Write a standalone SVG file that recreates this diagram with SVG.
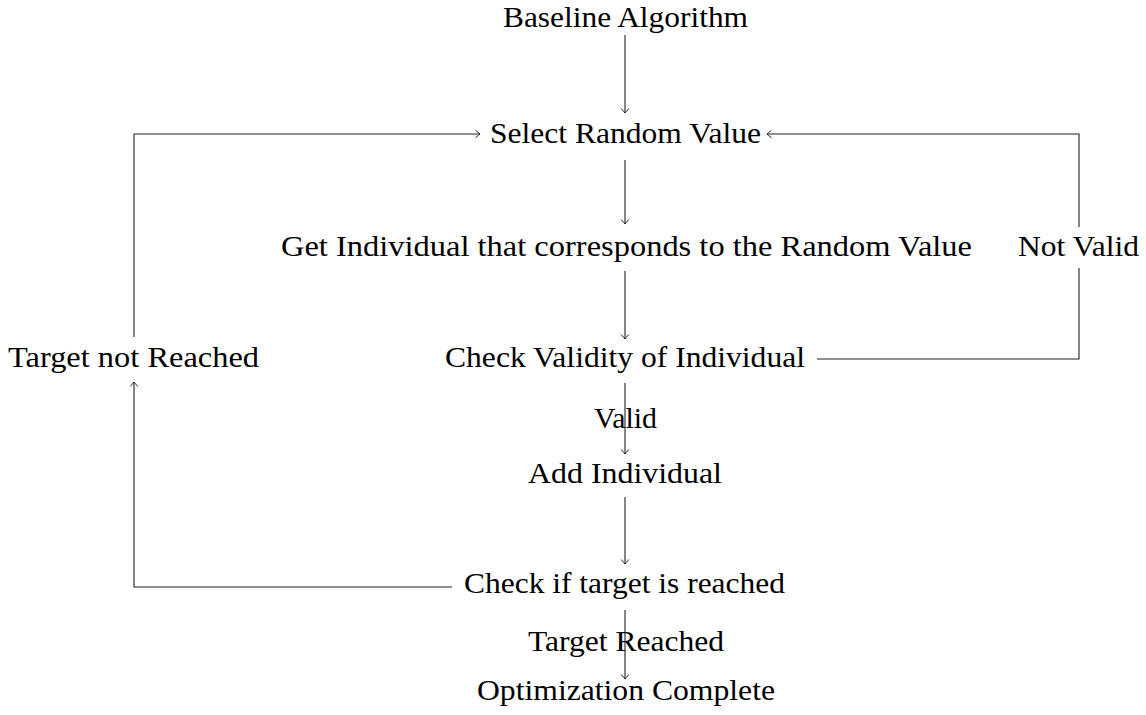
<svg xmlns="http://www.w3.org/2000/svg" width="1146" height="715" viewBox="0 0 1146 715">
<defs>
<style>
text{font-family:"Liberation Serif","DejaVu Serif",serif;font-size:29px;fill:#000;text-anchor:middle}
.c{fill:none;stroke:#222;stroke-width:1.1}
</style>
<marker id="ah" viewBox="-6 -5 8 10" markerWidth="8" markerHeight="10" refX="0" refY="0" orient="auto" markerUnits="userSpaceOnUse">
<path d="M-4.5,-3.8 Q-1.2,-1 0,0 Q-1.2,1 -4.5,3.8" fill="none" stroke="#222" stroke-width="1"/>
</marker>
</defs>
<rect width="1146" height="715" fill="#fff"/>
<g id="connectors">
<line class="c" x1="625" y1="35" x2="625" y2="113" marker-end="url(#ah)"/>
<line class="c" x1="625" y1="160" x2="625" y2="224" marker-end="url(#ah)"/>
<line class="c" x1="625" y1="271" x2="625" y2="339" marker-end="url(#ah)"/>
<line class="c" x1="625" y1="383" x2="625" y2="454" marker-end="url(#ah)"/>
<line class="c" x1="625" y1="497" x2="625" y2="564" marker-end="url(#ah)"/>
<line class="c" x1="625" y1="610" x2="625" y2="679" marker-end="url(#ah)"/>
<polyline class="c" points="452,587 134,587 134,382" marker-end="url(#ah)"/>
<polyline class="c" points="134,337 134,134 480,134" marker-end="url(#ah)"/>
<polyline class="c" points="817,359 1079,359 1079,268"/>
<polyline class="c" points="1079,227 1079,134 767,134" marker-end="url(#ah)"/>
</g>
<g id="n-baseline"><text x="625.5" y="27" textLength="245" lengthAdjust="spacingAndGlyphs">Baseline Algorithm</text></g>
<g id="n-select"><text x="625.5" y="143" textLength="271" lengthAdjust="spacingAndGlyphs">Select Random Value</text></g>
<g id="n-get"><text x="626.5" y="256" textLength="691" lengthAdjust="spacingAndGlyphs">Get Individual that corresponds to the Random Value</text></g>
<g id="n-notvalid"><text x="1078.5" y="256" textLength="121" lengthAdjust="spacingAndGlyphs">Not Valid</text></g>
<g id="n-notreached"><text x="133.5" y="367" textLength="251" lengthAdjust="spacingAndGlyphs">Target not Reached</text></g>
<g id="n-check"><text x="625" y="367" textLength="360" lengthAdjust="spacingAndGlyphs">Check Validity of Individual</text></g>
<g id="n-valid"><text x="625.5" y="428" textLength="63" lengthAdjust="spacingAndGlyphs">Valid</text></g>
<g id="n-add"><text x="625" y="483" textLength="194" lengthAdjust="spacingAndGlyphs">Add Individual</text></g>
<g id="n-checktarget"><text x="624.5" y="593" textLength="321" lengthAdjust="spacingAndGlyphs">Check if target is reached</text></g>
<g id="n-reached"><text x="626" y="651" textLength="196" lengthAdjust="spacingAndGlyphs">Target Reached</text></g>
<g id="n-complete"><text x="626" y="700" textLength="298" lengthAdjust="spacingAndGlyphs">Optimization Complete</text></g>
</svg>
